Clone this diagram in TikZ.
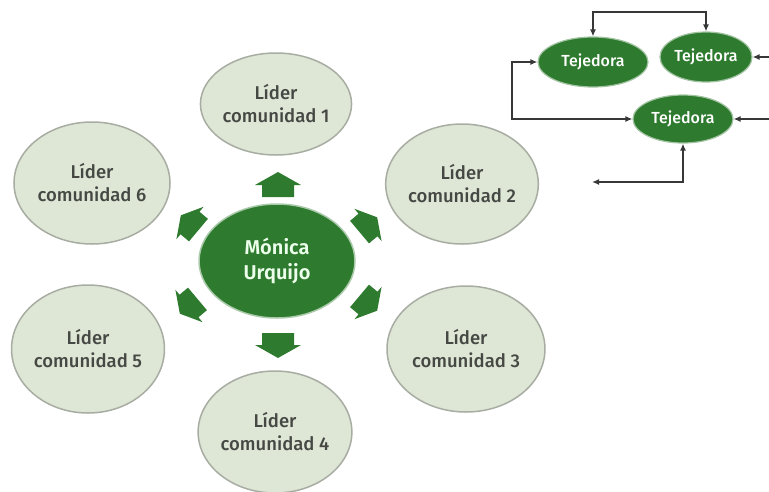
\documentclass[tikz,border=0pt]{standalone}
\usepackage{fontspec}
\setmainfont{Fira Sans}[UprightFont={* Medium},BoldFont={* SemiBold}]
\usetikzlibrary{shapes.geometric,arrows.meta}
\definecolor{hojaverde}{RGB}{46,122,46}
\definecolor{lidfondo}{RGB}{222,230,213}
\definecolor{lidborde}{RGB}{168,173,163}
\definecolor{textgris}{RGB}{70,72,68}
\definecolor{flechagris}{RGB}{55,55,55}
\tikzset{
  punta/.tip={Latex[length=7pt,width=6pt]},
  lider/.style={ellipse,draw=lidborde,line width=1.5pt,fill=lidfondo,inner sep=0pt,
    text=textgris,align=center,font=\fontsize{18.5}{23}\selectfont},
  tejedora/.style={ellipse,fill=hojaverde,draw=hojaverde!45!white,line width=1.2pt,
    inner sep=0pt,text=white,font=\fontsize{16}{18}\selectfont},
  enlace/.style={flechagris,line width=1.3pt},
}
\begin{document}
\begin{tikzpicture}[x=1pt,y=-1pt]
  \useasboundingbox (0,0) rectangle (769,491);

  % lideres alrededor
  \node[lider,minimum width=138pt,minimum height=102pt] (l1) at (276,104) {Líder\\comunidad 1};
  \node[lider,minimum width=152pt,minimum height=120pt] (l2) at (462,184) {Líder\\comunidad 2};
  \node[lider,minimum width=158pt,minimum height=126pt] (l3) at (466,349) {Líder\\comunidad 3};
  \node[lider,minimum width=150pt,minimum height=122pt] (l4) at (275,432) {Líder\\comunidad 4};
  \node[lider,minimum width=146pt,minimum height=128pt] (l5) at (88,349) {Líder\\comunidad 5};
  \node[lider,minimum width=156pt,minimum height=122pt] (l6) at (92,183) {Líder\\comunidad 6};

  \node[ellipse,fill=hojaverde,draw=hojaverde!40!white,line width=1.5pt,inner sep=0pt,
    minimum width=156pt,minimum height=114pt,text=white!92!green,align=center,
    font=\fontsize{20}{25}\selectfont\bfseries] (monica) at (277,261) {Mónica\\Urquijo};

  % flechas de bloque
  \foreach \pos/\ang/\esc in {{(278,185)}/90/1, {(278,345)}/-90/1, {(190,223)}/140/0.92,
      {(368,225)}/40/0.92, {(189,306)}/220/0.92, {(368,303)}/-40/0.92}
    \fill[hojaverde,shift={\pos},rotate=\ang,scale=\esc]
      (-12,-16) -- (0,-16) -- (0,-23) -- (13,0) -- (0,23) -- (0,16) -- (-12,16) -- cycle;

  % red de tejedoras
  \node[tejedora,minimum width=110pt,minimum height=50pt] (t1) at (593,62) {Tejedora};
  \node[tejedora,minimum width=92pt,minimum height=50pt] (t2) at (706,57) {Tejedora};
  \node[tejedora,minimum width=100pt,minimum height=48pt] (t3) at (683,119) {Tejedora};

  \coordinate (techo) at (650,12);
  \coordinate (izq) at (512,90);
  \coordinate (der2) at (775,57);
  \coordinate (der3) at (775,119);
  \coordinate (abajo) at (592,182);

  \draw[enlace,punta-punta] (t1.north) |- (techo) -| (t2.north);
  \draw[enlace,punta-punta] (t3.west) -| (izq) |- (t1.west);
  \draw[enlace,-punta] (der2) -- (t2.east);
  \draw[enlace,-punta] (der3) -- (t3.east);
  \draw[enlace,punta-punta] (t3.south) |- (abajo);
\end{tikzpicture}
\end{document}
